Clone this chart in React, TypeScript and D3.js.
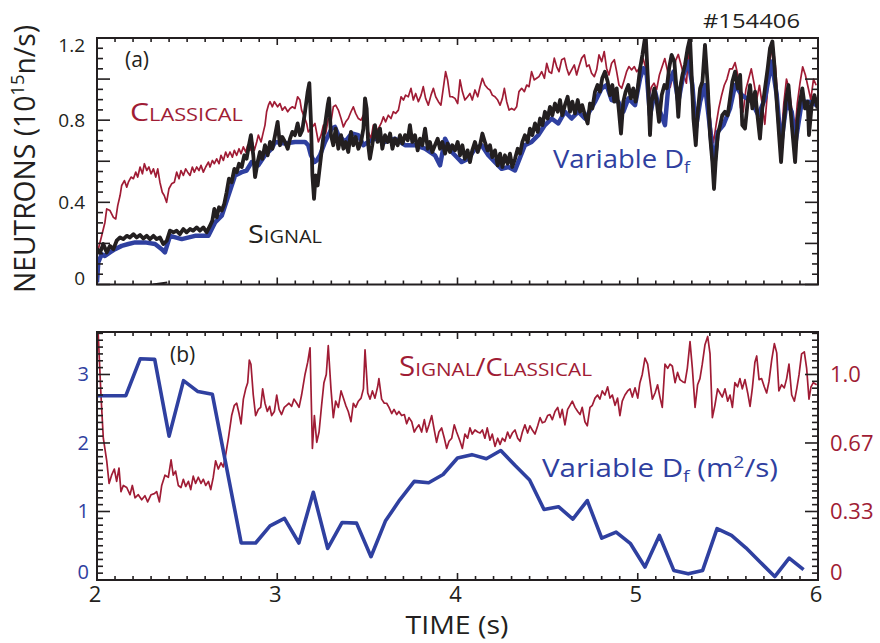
import React from "react";
import * as d3 from "d3";

const RED = "#a01c35";
const BLUE = "#2f40a0";
const INK = "#231f20";
const FONT = "'Open Sans', 'Noto Sans', sans-serif";

type Pt = [number, number];

// (a) neutron rate, 10^15 n/s  [time s, value]
const classical: Pt[] = [
  [2.007, 0.172], [2.026, 0.237], [2.044, 0.302], [2.054, 0.368], [2.072, 0.36], [2.091, 0.327], [2.104, 0.319], [2.115, 0.384],
  [2.128, 0.433], [2.137, 0.482], [2.152, 0.506], [2.165, 0.474], [2.174, 0.498], [2.189, 0.523], [2.202, 0.515], [2.215, 0.547],
  [2.226, 0.523], [2.239, 0.572], [2.252, 0.539], [2.263, 0.588], [2.276, 0.555], [2.288, 0.572], [2.3, 0.539], [2.313, 0.563],
  [2.326, 0.523], [2.337, 0.563], [2.349, 0.498], [2.362, 0.449], [2.373, 0.433], [2.386, 0.4], [2.399, 0.466], [2.414, 0.49],
  [2.429, 0.498], [2.442, 0.547], [2.455, 0.515], [2.466, 0.555], [2.479, 0.531], [2.492, 0.563], [2.503, 0.547], [2.516, 0.531],
  [2.529, 0.572], [2.54, 0.547], [2.553, 0.572], [2.566, 0.555], [2.577, 0.58], [2.59, 0.547], [2.603, 0.572], [2.618, 0.596],
  [2.627, 0.572], [2.64, 0.604], [2.651, 0.588], [2.664, 0.612], [2.677, 0.588], [2.688, 0.629], [2.701, 0.604], [2.714, 0.645],
  [2.725, 0.62], [2.738, 0.645], [2.751, 0.62], [2.762, 0.653], [2.775, 0.629], [2.788, 0.661], [2.799, 0.637], [2.812, 0.67],
  [2.825, 0.645], [2.836, 0.678], [2.849, 0.653], [2.862, 0.694], [2.873, 0.653], [2.886, 0.694], [2.895, 0.727], [2.91, 0.694],
  [2.923, 0.743], [2.932, 0.776], [2.941, 0.841], [2.951, 0.873], [2.96, 0.89], [2.973, 0.865], [2.984, 0.89],
  [3.002, 0.865], [3.015, 0.881], [3.028, 0.849], [3.043, 0.865], [3.058, 0.841], [3.071, 0.857], [3.084, 0.865], [3.098, 0.857],
  [3.113, 0.914], [3.126, 0.898], [3.135, 0.849], [3.15, 0.816], [3.163, 0.784], [3.172, 0.743], [3.195, 0.767], [3.209, 0.784],
  [3.228, 0.694], [3.243, 0.727], [3.256, 0.776], [3.269, 0.735], [3.283, 0.808], [3.298, 0.792], [3.311, 0.865], [3.324, 0.873],
  [3.339, 0.849], [3.354, 0.808], [3.367, 0.767], [3.38, 0.792], [3.394, 0.808], [3.409, 0.841], [3.422, 0.865], [3.435, 0.833],
  [3.45, 0.808], [3.465, 0.8], [3.478, 0.824], [3.491, 0.792], [3.505, 0.743], [3.52, 0.71], [3.533, 0.776], [3.546, 0.743],
  [3.561, 0.759], [3.576, 0.784], [3.589, 0.816], [3.601, 0.792], [3.616, 0.824], [3.631, 0.808], [3.644, 0.841], [3.657, 0.833],
  [3.672, 0.849], [3.687, 0.914], [3.7, 0.898], [3.712, 0.922], [3.727, 0.914], [3.742, 0.955], [3.755, 0.898], [3.768, 0.93],
  [3.783, 0.89], [3.798, 0.922], [3.81, 0.963], [3.823, 0.906], [3.838, 0.873], [3.853, 0.922], [3.866, 0.955], [3.879, 0.914],
  [3.894, 0.89], [3.908, 0.873], [3.921, 0.955], [3.934, 1.036], [3.945, 0.996], [3.958, 0.914], [3.971, 0.914], [3.986, 0.906],
  [4.001, 0.881], [4.014, 0.996], [4.027, 0.939], [4.041, 0.898], [4.056, 0.914], [4.069, 0.93], [4.082, 0.898], [4.097, 0.947],
  [4.112, 0.914], [4.125, 0.963], [4.138, 1.004], [4.152, 0.971], [4.167, 0.955], [4.18, 0.947], [4.193, 0.922], [4.208, 0.914],
  [4.223, 0.898], [4.236, 0.873], [4.249, 0.906], [4.26, 0.955], [4.273, 0.89], [4.286, 0.849], [4.3, 0.857], [4.315, 0.849],
  [4.328, 0.865], [4.341, 0.939], [4.356, 0.955], [4.371, 0.939], [4.384, 0.971], [4.397, 0.963], [4.411, 1.036], [4.426, 0.996],
  [4.439, 1.004], [4.452, 1.012], [4.467, 1.036], [4.482, 1.004], [4.495, 1.077], [4.508, 1.036], [4.522, 1.028], [4.537, 1.102],
  [4.55, 1.061], [4.563, 1.036], [4.578, 1.094], [4.593, 1.102], [4.606, 1.053], [4.618, 1.02], [4.633, 1.045], [4.648, 1.069],
  [4.661, 1.02], [4.674, 1.061], [4.689, 1.102], [4.704, 1.118], [4.717, 1.061], [4.73, 1.069], [4.744, 1.028], [4.759, 1.012],
  [4.772, 1.045], [4.785, 1.118], [4.8, 1.085], [4.814, 1.134], [4.827, 1.053], [4.84, 1.02], [4.855, 1.077], [4.87, 1.094],
  [4.883, 1.036], [4.896, 0.971], [4.911, 0.955], [4.925, 0.996], [4.938, 1.036], [4.951, 1.061], [4.966, 1.045], [4.981, 1.061],
  [4.994, 1.036], [5.015, 1.06], [5.03, 1.1], [5.045, 1.05], [5.06, 0.9], [5.075, 0.96], [5.09, 0.98], [5.105, 0.95],
  [5.12, 1.02], [5.135, 1.06], [5.15, 1.1], [5.165, 1.04], [5.18, 0.96], [5.195, 1.02], [5.21, 1.09], [5.225, 1.12],
  [5.24, 1.07], [5.255, 1.02], [5.27, 0.98], [5.285, 1.16], [5.3, 1.02], [5.315, 0.88], [5.33, 0.84], [5.345, 0.92],
  [5.36, 1.0], [5.375, 1.14], [5.39, 0.96], [5.405, 0.78], [5.42, 0.69], [5.435, 0.78], [5.45, 0.86], [5.465, 0.92],
  [5.48, 0.97], [5.495, 1.0], [5.51, 1.05], [5.525, 1.05], [5.54, 1.08], [5.555, 1.02], [5.57, 0.86], [5.585, 0.84],
  [5.6, 0.95], [5.615, 1.0], [5.63, 1.05], [5.645, 0.98], [5.66, 0.9], [5.675, 0.97], [5.69, 0.88], [5.705, 0.78],
  [5.72, 0.94], [5.735, 1.1], [5.75, 1.17], [5.765, 1.05], [5.78, 0.86], [5.795, 0.7], [5.81, 0.88], [5.825, 1.0],
  [5.84, 0.95], [5.855, 0.85], [5.87, 0.72], [5.885, 0.88], [5.9, 0.98], [5.915, 1.06], [5.93, 1.02], [5.945, 0.96],
  [5.96, 0.9], [5.975, 1.0], [5.99, 0.97],
];

const variableDf: Pt[] = [
  [2.0, 0.01], [2.007, 0.107], [2.026, 0.148], [2.044, 0.139], [2.072, 0.156], [2.1, 0.172], [2.137, 0.188], [2.174, 0.197],
  [2.211, 0.205], [2.266, 0.205], [2.322, 0.197], [2.359, 0.172], [2.377, 0.156], [2.405, 0.237], [2.47, 0.221], [2.544, 0.237],
  [2.618, 0.237], [2.655, 0.302], [2.692, 0.335], [2.729, 0.433], [2.766, 0.531], [2.803, 0.547], [2.83, 0.555], [2.858, 0.596],
  [2.895, 0.58], [2.932, 0.629], [2.969, 0.661], [2.988, 0.694], [3.043, 0.686], [3.098, 0.694], [3.154, 0.694], [3.172, 0.678],
  [3.187, 0.629], [3.206, 0.596], [3.219, 0.604], [3.237, 0.629], [3.265, 0.694], [3.302, 0.759], [3.32, 0.767], [3.339, 0.727],
  [3.376, 0.694], [3.413, 0.735], [3.45, 0.727], [3.478, 0.678], [3.505, 0.694], [3.542, 0.71], [3.598, 0.694], [3.653, 0.71],
  [3.709, 0.678], [3.764, 0.678], [3.82, 0.661], [3.875, 0.629], [3.903, 0.58], [3.931, 0.71], [3.968, 0.645], [3.986, 0.629],
  [4.023, 0.596], [4.06, 0.612], [4.097, 0.661], [4.134, 0.678], [4.171, 0.629], [4.208, 0.596], [4.245, 0.563], [4.282, 0.572],
  [4.319, 0.555], [4.337, 0.596], [4.374, 0.678], [4.411, 0.694], [4.448, 0.727], [4.485, 0.776], [4.522, 0.808], [4.559, 0.784],
  [4.596, 0.841], [4.633, 0.808], [4.67, 0.841], [4.707, 0.808], [4.726, 0.833], [4.763, 0.89], [4.8, 0.955], [4.827, 0.971],
  [4.855, 0.898], [4.892, 0.89], [4.92, 0.841], [4.948, 0.906], [4.985, 0.873], [5.013, 1.004], [5.031, 1.053], [5.05, 1.02],
  [5.068, 0.824], [5.096, 0.939], [5.124, 0.841], [5.151, 0.776], [5.17, 0.971], [5.198, 1.036], [5.225, 0.89], [5.253, 1.02],
  [5.281, 1.085], [5.303, 0.971], [5.322, 0.759], [5.346, 0.89], [5.373, 0.971], [5.401, 0.759], [5.423, 0.563], [5.444, 0.743],
  [5.475, 0.776], [5.512, 0.857], [5.54, 0.971], [5.577, 0.922], [5.605, 0.906], [5.632, 0.89], [5.669, 0.824], [5.706, 0.906],
  [5.743, 1.085], [5.771, 0.922], [5.795, 0.678], [5.826, 0.89], [5.854, 0.841], [5.876, 0.694], [5.91, 0.89], [5.947, 0.89],
  [5.993, 0.873],
];

const signal: Pt[] = [
  [2.0, 0.172], [2.017, 0.156], [2.035, 0.197], [2.054, 0.156], [2.072, 0.188], [2.091, 0.172], [2.109, 0.213], [2.128, 0.229],
  [2.146, 0.221], [2.165, 0.237], [2.183, 0.229], [2.202, 0.245], [2.22, 0.229], [2.239, 0.241], [2.257, 0.224], [2.276, 0.237],
  [2.294, 0.221], [2.313, 0.237], [2.331, 0.221], [2.349, 0.229], [2.368, 0.197], [2.387, 0.213], [2.405, 0.262], [2.424, 0.254],
  [2.442, 0.262], [2.46, 0.245], [2.479, 0.27], [2.497, 0.254], [2.516, 0.27], [2.534, 0.262], [2.553, 0.278], [2.571, 0.262],
  [2.59, 0.278], [2.608, 0.254], [2.627, 0.286], [2.64, 0.311], [2.651, 0.368], [2.664, 0.327], [2.677, 0.376], [2.692, 0.36],
  [2.706, 0.392], [2.719, 0.449], [2.732, 0.515], [2.747, 0.498], [2.762, 0.563], [2.775, 0.547], [2.788, 0.588], [2.803, 0.572],
  [2.817, 0.629], [2.83, 0.612], [2.843, 0.678], [2.854, 0.727], [2.867, 0.629], [2.877, 0.523], [2.891, 0.596], [2.904, 0.645],
  [2.917, 0.612], [2.932, 0.678], [2.947, 0.629], [2.96, 0.694], [2.973, 0.661], [2.988, 0.727],
  [3.002, 0.792], [3.015, 0.678], [3.028, 0.718], [3.043, 0.694], [3.058, 0.661], [3.071, 0.71], [3.084, 0.743], [3.098, 0.727],
  [3.113, 0.784], [3.126, 0.727], [3.139, 0.751], [3.154, 0.841], [3.169, 0.939], [3.178, 0.98], [3.187, 0.792], [3.195, 0.531],
  [3.204, 0.417], [3.213, 0.531], [3.224, 0.482], [3.237, 0.58], [3.25, 0.678], [3.265, 0.776], [3.28, 0.873], [3.287, 0.906],
  [3.298, 0.727], [3.311, 0.678], [3.324, 0.759], [3.339, 0.661], [3.354, 0.727], [3.367, 0.661], [3.38, 0.694], [3.394, 0.645],
  [3.409, 0.743], [3.422, 0.678], [3.435, 0.718], [3.45, 0.661], [3.465, 0.694], [3.478, 0.759], [3.487, 0.906], [3.496, 0.857],
  [3.505, 0.678], [3.514, 0.612], [3.527, 0.678], [3.542, 0.776], [3.557, 0.694], [3.57, 0.759], [3.583, 0.661], [3.598, 0.727],
  [3.613, 0.694], [3.626, 0.735], [3.639, 0.661], [3.653, 0.71], [3.668, 0.678], [3.681, 0.727], [3.694, 0.686], [3.709, 0.727],
  [3.724, 0.702], [3.736, 0.776], [3.749, 0.694], [3.764, 0.727], [3.779, 0.653], [3.792, 0.71], [3.805, 0.678], [3.82, 0.759],
  [3.835, 0.661], [3.847, 0.694], [3.86, 0.645], [3.875, 0.678], [3.89, 0.71], [3.903, 0.661], [3.916, 0.694], [3.931, 0.637],
  [3.945, 0.686], [3.958, 0.645], [3.971, 0.678], [3.986, 0.653],
  [4.001, 0.694], [4.014, 0.629], [4.027, 0.678], [4.041, 0.612], [4.056, 0.653], [4.069, 0.596], [4.082, 0.653], [4.097, 0.694],
  [4.112, 0.645], [4.125, 0.678], [4.138, 0.735], [4.152, 0.694], [4.167, 0.653], [4.18, 0.678], [4.193, 0.62], [4.208, 0.653],
  [4.223, 0.58], [4.236, 0.637], [4.249, 0.572], [4.263, 0.629], [4.278, 0.588], [4.291, 0.637], [4.304, 0.572], [4.319, 0.612],
  [4.334, 0.661], [4.347, 0.637], [4.36, 0.694], [4.374, 0.727], [4.389, 0.694], [4.402, 0.759], [4.415, 0.727], [4.43, 0.784],
  [4.445, 0.743], [4.458, 0.808], [4.471, 0.776], [4.485, 0.841], [4.5, 0.808], [4.513, 0.865], [4.526, 0.824], [4.541, 0.881],
  [4.556, 0.841], [4.569, 0.898], [4.581, 0.824], [4.596, 0.873], [4.611, 0.914], [4.624, 0.841], [4.637, 0.89], [4.652, 0.833],
  [4.667, 0.898], [4.68, 0.841], [4.692, 0.873], [4.707, 0.824], [4.722, 0.784], [4.735, 0.881], [4.748, 0.857], [4.763, 0.939],
  [4.777, 0.971], [4.79, 0.939], [4.803, 1.004], [4.818, 1.036], [4.833, 0.988], [4.846, 0.922], [4.859, 0.971], [4.87, 0.89],
  [4.883, 0.955], [4.896, 0.841], [4.907, 0.735], [4.92, 0.89], [4.933, 0.939], [4.948, 0.971], [4.962, 0.906], [4.975, 0.955],
  [4.988, 0.89],
  [5.0, 0.955], [5.013, 1.053], [5.026, 1.118], [5.037, 1.183], [5.044, 1.216], [5.055, 1.02], [5.068, 0.727], [5.077, 0.89],
  [5.092, 0.955], [5.105, 0.89], [5.118, 0.792], [5.133, 0.922], [5.148, 0.971], [5.161, 0.955], [5.174, 1.053], [5.188, 1.118],
  [5.203, 1.085], [5.216, 0.939], [5.225, 0.816], [5.235, 0.955], [5.248, 1.02], [5.262, 1.069], [5.277, 1.151], [5.29, 1.2],
  [5.299, 1.02], [5.309, 0.808], [5.322, 0.678], [5.333, 0.841], [5.346, 0.955], [5.359, 0.988], [5.373, 1.167], [5.388, 0.971],
  [5.401, 0.727], [5.414, 0.596], [5.423, 0.465], [5.432, 0.596], [5.444, 0.727], [5.457, 0.776], [5.469, 0.824], [5.484, 0.841],
  [5.499, 0.824], [5.512, 0.906], [5.525, 0.988], [5.54, 1.036], [5.555, 0.955], [5.568, 1.02], [5.58, 0.776], [5.595, 0.759],
  [5.61, 0.89], [5.623, 0.971], [5.636, 0.857], [5.651, 0.939], [5.666, 0.808], [5.678, 0.71], [5.691, 0.857], [5.706, 0.955],
  [5.721, 1.053], [5.734, 1.151], [5.747, 1.183], [5.758, 1.069], [5.771, 0.89], [5.784, 0.727], [5.795, 0.596], [5.808, 0.759],
  [5.821, 0.89], [5.836, 0.971], [5.85, 0.824], [5.863, 0.694], [5.873, 0.596], [5.887, 0.808], [5.9, 0.89], [5.913, 0.955],
  [5.928, 0.857], [5.943, 0.89], [5.95, 0.727], [5.965, 0.873], [5.98, 0.922], [5.998, 0.857],
];

// short trace near the baseline of (a)
const baselineTrace: Pt[] = [[2.23, -0.008], [2.31, 0.0], [2.39, 0.01]];

// (b) signal/classical ratio (right axis)
const ratio: Pt[] = [
  [2.004, 1.25], [2.022, 0.9], [2.035, 0.69], [2.054, 0.58], [2.067, 0.47], [2.081, 0.51], [2.096, 0.54], [2.109, 0.48],
  [2.122, 0.545], [2.133, 0.43], [2.146, 0.46], [2.165, 0.45], [2.183, 0.415], [2.196, 0.46], [2.211, 0.4], [2.229, 0.415],
  [2.248, 0.39], [2.266, 0.41], [2.281, 0.38], [2.3, 0.415], [2.318, 0.42], [2.331, 0.43], [2.346, 0.38], [2.359, 0.46],
  [2.377, 0.51], [2.396, 0.5], [2.411, 0.585], [2.423, 0.51], [2.436, 0.53], [2.451, 0.46], [2.466, 0.45], [2.479, 0.49],
  [2.492, 0.455], [2.507, 0.48], [2.52, 0.44], [2.534, 0.505], [2.547, 0.47], [2.562, 0.5], [2.577, 0.47], [2.59, 0.49],
  [2.603, 0.46], [2.618, 0.48], [2.631, 0.44], [2.645, 0.5], [2.658, 0.58], [2.673, 0.54], [2.688, 0.57], [2.701, 0.55],
  [2.714, 0.61], [2.729, 0.69], [2.747, 0.8], [2.762, 0.85], [2.775, 0.86], [2.788, 0.81], [2.799, 0.76], [2.812, 0.88],
  [2.825, 0.93], [2.836, 0.96], [2.845, 1.07], [2.854, 1.05], [2.867, 0.9], [2.88, 0.8], [2.895, 0.83], [2.908, 0.84],
  [2.919, 0.93], [2.932, 0.86], [2.945, 0.82], [2.958, 0.845], [2.969, 0.8], [2.984, 0.82], [2.997, 0.9], [3.01, 0.83],
  [3.024, 0.805], [3.039, 0.84], [3.052, 0.85], [3.065, 0.86], [3.08, 0.845], [3.093, 0.88], [3.108, 0.86], [3.121, 0.84],
  [3.135, 0.9], [3.154, 1.0], [3.169, 1.06], [3.182, 1.13], [3.195, 0.64], [3.206, 0.8], [3.219, 0.67], [3.232, 0.72],
  [3.246, 0.85], [3.259, 0.96], [3.272, 1.0], [3.283, 1.14], [3.298, 0.93], [3.311, 0.79], [3.324, 0.87], [3.339, 0.84],
  [3.354, 0.92], [3.367, 0.885], [3.38, 0.85], [3.394, 0.82], [3.409, 0.77], [3.422, 0.86], [3.435, 0.84], [3.45, 0.87],
  [3.465, 0.885], [3.478, 0.93], [3.487, 1.12], [3.502, 0.91], [3.515, 0.88], [3.528, 0.92], [3.542, 0.885], [3.557, 0.94],
  [3.564, 0.98], [3.579, 0.88], [3.594, 0.86], [3.607, 0.86], [3.62, 0.84], [3.635, 0.81], [3.648, 0.83], [3.663, 0.805],
  [3.675, 0.82], [3.69, 0.8], [3.705, 0.805], [3.718, 0.76], [3.731, 0.79], [3.746, 0.77], [3.76, 0.72], [3.773, 0.74],
  [3.786, 0.755], [3.801, 0.72], [3.816, 0.78], [3.829, 0.72], [3.842, 0.755], [3.857, 0.8], [3.871, 0.73], [3.884, 0.67],
  [3.897, 0.72], [3.912, 0.74], [3.927, 0.69], [3.94, 0.64], [3.953, 0.675], [3.968, 0.69], [3.982, 0.755], [3.995, 0.72],
  [4.008, 0.69], [4.014, 0.675], [4.027, 0.64], [4.041, 0.71], [4.056, 0.69], [4.069, 0.74], [4.082, 0.71], [4.097, 0.73],
  [4.112, 0.72], [4.125, 0.715], [4.138, 0.73], [4.152, 0.69], [4.165, 0.74], [4.18, 0.68], [4.193, 0.71], [4.208, 0.65],
  [4.223, 0.69], [4.236, 0.66], [4.249, 0.69], [4.263, 0.675], [4.278, 0.72], [4.291, 0.69], [4.304, 0.715], [4.319, 0.73],
  [4.334, 0.69], [4.347, 0.675], [4.36, 0.72], [4.374, 0.755], [4.389, 0.715], [4.402, 0.75], [4.415, 0.73], [4.43, 0.71],
  [4.445, 0.75], [4.458, 0.79], [4.471, 0.765], [4.485, 0.77], [4.5, 0.8], [4.513, 0.805], [4.526, 0.78], [4.541, 0.82],
  [4.556, 0.84], [4.569, 0.79], [4.581, 0.83], [4.596, 0.755], [4.611, 0.83], [4.624, 0.85], [4.637, 0.87], [4.652, 0.84],
  [4.667, 0.82], [4.68, 0.805], [4.692, 0.84], [4.707, 0.77], [4.72, 0.75], [4.735, 0.84], [4.748, 0.85], [4.763, 0.885],
  [4.777, 0.9], [4.79, 0.88], [4.803, 0.92], [4.818, 0.9], [4.833, 0.94], [4.846, 0.885], [4.859, 0.9], [4.874, 0.85],
  [4.888, 0.885], [4.901, 0.8], [4.914, 0.87], [4.929, 0.9], [4.944, 0.92], [4.957, 0.93], [4.97, 0.89], [4.985, 0.935],
  [5.0, 0.885], [5.012, 0.96], [5.025, 1.0], [5.04, 1.08], [5.055, 1.05], [5.068, 0.965], [5.081, 0.88], [5.096, 0.91],
  [5.11, 0.95], [5.123, 0.89], [5.136, 0.84], [5.151, 1.05], [5.166, 1.03], [5.179, 1.05], [5.192, 1.04], [5.207, 0.96],
  [5.221, 1.01], [5.234, 0.975], [5.249, 0.965], [5.262, 0.96], [5.275, 1.03], [5.29, 1.16], [5.303, 1.03], [5.318, 0.84],
  [5.332, 0.95], [5.345, 0.98], [5.358, 1.05], [5.373, 1.145], [5.388, 1.185], [5.401, 1.1], [5.414, 0.79], [5.428, 0.85],
  [5.443, 0.93], [5.456, 0.91], [5.469, 0.89], [5.484, 0.93], [5.499, 0.87], [5.512, 0.9], [5.525, 0.84], [5.539, 0.96],
  [5.554, 0.94], [5.567, 0.98], [5.58, 0.93], [5.595, 0.975], [5.61, 0.91], [5.623, 0.845], [5.636, 0.935], [5.65, 1.06],
  [5.66, 1.09], [5.673, 0.975], [5.687, 0.98], [5.702, 0.94], [5.715, 0.91], [5.728, 0.965], [5.743, 1.07], [5.758, 1.15],
  [5.771, 1.105], [5.783, 0.92], [5.798, 0.95], [5.813, 0.935], [5.826, 0.98], [5.839, 1.05], [5.854, 0.9], [5.869, 0.87],
  [5.882, 0.93], [5.895, 1.0], [5.909, 1.1], [5.924, 1.11], [5.937, 1.03], [5.95, 0.88], [5.961, 0.94], [5.974, 0.96],
  [5.993, 0.95],
];

// (b) variable fast-ion diffusivity, m^2/s (left axis)
const dfTimes = [
  2.0, 2.16, 2.24, 2.32, 2.4, 2.48, 2.56, 2.64, 2.8, 2.88, 2.96, 3.04, 3.12, 3.2, 3.28, 3.36, 3.44, 3.52, 3.6, 3.68, 3.76, 3.84,
  3.92, 4.0, 4.08, 4.16, 4.24, 4.32, 4.4, 4.48, 4.56, 4.64, 4.72, 4.8, 4.88, 4.96, 5.04, 5.12, 5.2, 5.28, 5.36, 5.44, 5.52, 5.6,
  5.68, 5.76, 5.84, 5.92,
];
const dfValues = [
  2.69, 2.69, 3.23, 3.22, 2.1, 2.91, 2.75, 2.71, 0.54, 0.54, 0.79, 0.9, 0.54, 1.28, 0.46, 0.84, 0.83, 0.34, 0.86, 1.17, 1.44, 1.42,
  1.54, 1.78, 1.83, 1.77, 1.89, 1.67, 1.46, 1.03, 1.07, 0.89, 1.16, 0.61, 0.7, 0.53, 0.19, 0.65, 0.14, 0.09, 0.14, 0.75, 0.65, 0.47,
  0.26, 0.05, 0.32, 0.15,
];

const timeTicks = [2, 3, 4, 5, 6];
const neutronTicks = [0, 0.4, 0.8, 1.2];
const neutronTickLabels = ["0", "0.4", "0.8", "1.2"];
const dfTicks = [0, 1, 2, 3];
const ratioTicks = [0, 1 / 3, 2 / 3, 1];
const ratioTickLabels = ["0", "0.33", "0.67", "1.0"];

export default function App() {
  const width = 880;
  const height = 643;
  const left = 97;
  const right = 818;
  const aTop = 38;
  const aBottom = 284.5;
  const bTop = 332;
  const bBottom = 580;

  const x = d3.scaleLinear().domain([2, 6]).range([left, right]);
  const yA = d3.scaleLinear().domain([0, 1.2]).range([aBottom, aTop]);
  const yB = d3.scaleLinear().domain([0, 3.62]).range([bBottom, bTop]);
  const yR = d3.scaleLinear().domain([0, 3.62 / 3]).range([bBottom, bTop]);

  const lineA = d3.line<Pt>().x((d) => x(d[0])).y((d) => yA(d[1]));
  const lineR = d3.line<Pt>().x((d) => x(d[0])).y((d) => yR(d[1]));
  const lineDf = d3
    .line<number>()
    .x((_, i) => x(dfTimes[i]))
    .y((d) => yB(d));

  // tick positions
  const xMinor = d3.range(20, 61).map((i) => i / 10);
  const aMinor = d3.range(0, 25).map((i) => i * 0.05);
  const bMinor = d3.range(0, 37).map((i) => i / 10);
  const isMult = (v: number, m: number) => Math.abs(v / m - Math.round(v / m)) < 1e-6;

  const xTickLines = (top: number, bottom: number) =>
    xMinor.map((t, i) => {
      const len = isMult(t, 1) ? 7 : 4;
      return (
        <g key={i}>
          <line x1={x(t)} x2={x(t)} y1={bottom} y2={bottom - len} />
          <line x1={x(t)} x2={x(t)} y1={top} y2={top + len} />
        </g>
      );
    });

  const yTickLines = (vals: number[], scale: (v: number) => number, majorStep: number) =>
    vals.map((v, i) => {
      const len = isMult(v, majorStep) ? 13 : 6;
      const yy = scale(v);
      return (
        <g key={i}>
          <line x1={left} x2={left + len} y1={yy} y2={yy} />
          <line x1={right} x2={right - len} y1={yy} y2={yy} />
        </g>
      );
    });

  return (
    <svg
      width={width}
      height={height}
      style={{ position: "absolute", left: 0, top: 0, background: "#fff" }}
      fontFamily={FONT}
    >
      <defs>
        <clipPath id="clipA">
          <rect x={left} y={aTop} width={right - left} height={aBottom - aTop} />
        </clipPath>
        <clipPath id="clipB">
          <rect x={left} y={bTop} width={right - left} height={bBottom - bTop} />
        </clipPath>
      </defs>

      {/* panel (a) */}
      <g clipPath="url(#clipA)" fill="none" strokeLinejoin="round">
        <path d={lineA(classical) || ""} stroke={RED} strokeWidth={1.7} />
        <path d={lineA(variableDf) || ""} stroke={BLUE} strokeWidth={4.5} />
        <path d={lineA(signal) || ""} stroke={INK} strokeWidth={3.8} />
        <path d={lineA(baselineTrace) || ""} stroke={INK} strokeWidth={2} />
      </g>
      <g stroke={INK} strokeWidth={1.6}>
        {xTickLines(aTop, aBottom)}
        {yTickLines(aMinor, yA, 0.2)}
      </g>
      <rect x={left} y={aTop} width={right - left} height={aBottom - aTop} fill="none" stroke={INK} strokeWidth={2} />

      {neutronTicks.map((v, i) => (
        <text
          key={i}
          x={85}
          y={yA(v) + 7 + (i === 0 ? -7 : i === neutronTicks.length - 1 ? 7 : 0)}
          textAnchor="end"
          fontSize={19}
          fill={INK}
        >
          {neutronTickLabels[i]}
        </text>
      ))}

      <text transform="translate(35,159) rotate(-90)" textAnchor="middle" fontSize={29} fill={INK} textLength={268} lengthAdjust="spacingAndGlyphs">
        NEUTRONS (10<tspan fontSize={19} dy={-11}>15</tspan>
        <tspan dy={11}>n/s)</tspan>
      </text>

      <text x={703} y={28} fontSize={20} fill={INK} textLength={97} lengthAdjust="spacingAndGlyphs">
        #154406
      </text>
      <text x={125} y={67} fontSize={21} fill={INK}>
        (a)
      </text>
      <text x={130} y={121} fill={RED} textLength={113} lengthAdjust="spacingAndGlyphs">
        <tspan fontSize={25}>C</tspan>
        <tspan fontSize={18}>LASSICAL</tspan>
      </text>
      <text x={248} y={243} fill={INK} textLength={74} lengthAdjust="spacingAndGlyphs">
        <tspan fontSize={26}>S</tspan>
        <tspan fontSize={18}>IGNAL</tspan>
      </text>
      <text x={553} y={168} fill={BLUE} fontSize={25} textLength={137} lengthAdjust="spacingAndGlyphs">
        Variable D<tspan fontSize={16} dy={5}>f</tspan>
      </text>

      {/* panel (b) */}
      <g clipPath="url(#clipB)" fill="none" strokeLinejoin="round">
        <path d={lineR(ratio) || ""} stroke={RED} strokeWidth={1.7} />
        <path d={lineDf(dfValues) || ""} stroke={BLUE} strokeWidth={3.6} />
      </g>
      <g stroke={INK} strokeWidth={1.6}>
        {xTickLines(bTop, bBottom)}
        {yTickLines(bMinor, yB, 1)}
      </g>
      <rect x={left} y={bTop} width={right - left} height={bBottom - bTop} fill="none" stroke={INK} strokeWidth={2} />

      {dfTicks.map((v, i) => (
        <text key={i} x={89} y={yB(v) + 7 + (i === 0 ? -8 : 0)} textAnchor="end" fontSize={20} fill={BLUE}>
          {v}
        </text>
      ))}
      {ratioTicks.map((v, i) => (
        <text key={i} x={830} y={yR(v) + 8 + (i === 0 ? -8 : 0)} textAnchor="start" fontSize={22} fill={RED}>
          {ratioTickLabels[i]}
        </text>
      ))}

      <text x={170} y={362} fontSize={21} fill={INK}>
        (b)
      </text>
      <text x={399} y={376} fill={RED} textLength={193} lengthAdjust="spacingAndGlyphs">
        <tspan fontSize={27}>S</tspan>
        <tspan fontSize={19}>IGNAL</tspan>
        <tspan fontSize={25}>/C</tspan>
        <tspan fontSize={19}>LASSICAL</tspan>
      </text>
      <text x={542} y={477} fill={BLUE} fontSize={26} textLength={236} lengthAdjust="spacingAndGlyphs">
        Variable D<tspan fontSize={17} dy={5}>f</tspan>
        <tspan dy={-5}> (m</tspan>
        <tspan fontSize={17} dy={-9}>2</tspan>
        <tspan dy={9}>/s)</tspan>
      </text>

      {timeTicks.map((t) => (
        <text key={t} x={x(t) - 2} y={602} textAnchor="middle" fontSize={22} fill={INK}>
          {t}
        </text>
      ))}
      <text x={457} y={634} textAnchor="middle" fontSize={26} fill={INK} textLength={103} lengthAdjust="spacingAndGlyphs">
        TIME (s)
      </text>
    </svg>
  );
}
